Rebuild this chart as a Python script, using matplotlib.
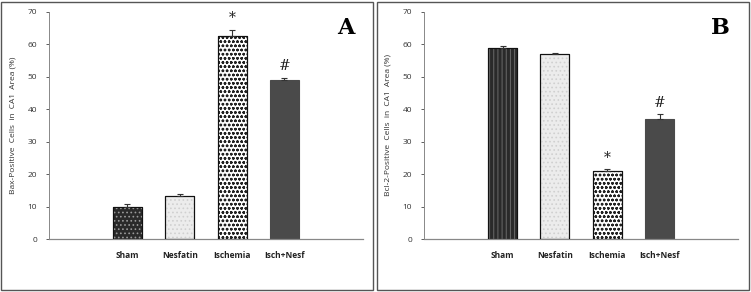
import matplotlib
matplotlib.use("Agg")
import matplotlib.pyplot as plt
from matplotlib.patches import Rectangle

categories = ["Sham", "Nesfatin", "Ischemia", "Isch+Nesf"]
bax_values = [10.0, 13.2, 62.5, 49.0]
bax_errors = [0.7, 0.6, 2.0, 0.8]
bax_marks = ["", "", "*", "#"]
bcl_values = [59.0, 57.0, 21.0, 37.0]
bcl_errors = [0.5, 0.4, 0.5, 1.5]
bcl_marks = ["", "", "*", "#"]
yticks = [0, 10, 20, 30, 40, 50, 60, 70]

plt.rcParams['font.family'] = ['Open Sans', 'DejaVu Sans']
plt.rcParams['hatch.linewidth'] = 0.7

W, H = 751, 292
fig = plt.figure(figsize=(W / 100, H / 100), dpi=100)

# panel borders
for x0, x1 in [(1, 373), (377, 749)]:
    fig.patches.append(Rectangle((x0 / W, 2 / H), (x1 - x0) / W, (H - 4) / H,
                                 transform=fig.transFigure, fill=False,
                                 edgecolor='#555555', linewidth=1.0))

styles_A = [
    dict(face='#2a2a2a', hatch='....', hcolor='#9a9a9a'),
    dict(face='#ececec', hatch='....', hcolor='#d0d0d0'),
    dict(face='#ffffff', hatch='oooo', hcolor='#222222'),
    dict(face='#4a4a4a', hatch='', hcolor='#4a4a4a'),
]
styles_B = [
    dict(face='#2a2a2a', hatch='||||', hcolor='#6a6a6a'),
    dict(face='#ececec', hatch='....', hcolor='#d0d0d0'),
    dict(face='#ffffff', hatch='oooo', hcolor='#222222'),
    dict(face='#4a4a4a', hatch='', hcolor='#4a4a4a'),
]

def panel(left_px, values, errors, marks, styles, ylabel, letter):
    ax = fig.add_axes([left_px / W, 53 / H, 314 / W, 227 / H])
    x = list(range(len(categories)))
    for i, (v, st) in enumerate(zip(values, styles)):
        ax.bar(x[i], v, width=0.55, color=st['face'],
               edgecolor='#111111' if st['hatch'] else st['face'],
               linewidth=0.8, zorder=2)
        if st['hatch']:
            ax.bar(x[i], v, width=0.55, fill=False, hatch=st['hatch'],
                   edgecolor=st['hcolor'], linewidth=0, zorder=3)
            ax.bar(x[i], v, width=0.55, fill=False,
                   edgecolor='#111111', linewidth=0.8, zorder=4)
    ax.errorbar(x, values, yerr=[[0] * len(errors), errors], fmt='none',
                ecolor='#333333', elinewidth=0.8, capsize=2, capthick=0.8,
                zorder=5)
    for i, m in enumerate(marks):
        if m:
            ax.text(x[i], values[i] + errors[i] + 3.5, m, ha='center',
                    va='center', fontsize=10, family='DejaVu Serif',
                    color='#222222')
    ax.set_xlim(-1.5, 4.5)
    ax.set_ylim(0, 70)
    ax.set_yticks(yticks)
    ax.tick_params(axis='y', labelsize=6, colors='#444444', length=2.5,
                   width=0.6, pad=6)
    ax.tick_params(axis='x', length=0, pad=9)
    ax.set_xticks(x)
    ax.set_xticklabels(categories, fontsize=6, fontweight='bold',
                       color='#222222')
    for lab in ax.get_yticklabels():
        lab.set_color('#333333')
    ax.set_ylabel(ylabel, fontsize=6, color='#333333', labelpad=8)
    for s in ['top', 'right']:
        ax.spines[s].set_visible(False)
    ax.spines['left'].set_color('#888888')
    ax.spines['left'].set_linewidth(0.7)
    ax.spines['bottom'].set_color('#888888')
    ax.spines['bottom'].set_linewidth(0.9)
    ax.text(0.945, 0.93, letter, transform=ax.transAxes, ha='center',
            va='center', fontsize=16, fontweight='bold', family='DejaVu Serif')
    return ax

panel(49, bax_values, bax_errors, bax_marks, styles_A,
      "Bax-Positive  Cells  in  CA1  Area (%)", "A")
panel(424, bcl_values, bcl_errors, bcl_marks, styles_B,
      "Bcl-2-Positive  Cells  in  CA1  Area (%)", "B")

fig.savefig("out.png", dpi=100)
